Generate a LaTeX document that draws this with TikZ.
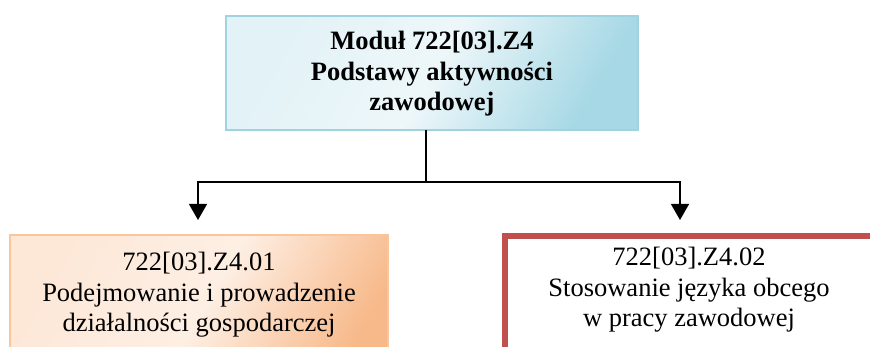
\documentclass[tikz,border=0pt]{standalone}
\usepackage{fontspec}
\setmainfont{Liberation Serif}
\usetikzlibrary{arrows.meta}
\definecolor{bluebd}{HTML}{9FD3E0}
\definecolor{bluedk}{HTML}{A6D8E5}
\definecolor{bluelt}{HTML}{E2F2F6}
\definecolor{orbd}{HTML}{F9C69B}
\definecolor{ordk}{HTML}{F7B98A}
\definecolor{orlt}{HTML}{FDE8D8}
\definecolor{redbd}{HTML}{C0504D}
\tikzset{
  every node/.style={inner sep=0pt, outer sep=0pt},
  boxtext/.style={align=center, font=\fontsize{26.5}{30.5}\selectfont},
  conn/.style={draw=black, line width=1.4pt},
  arr/.style={conn, -{Triangle[width=18pt,length=16pt]}},
}
\begin{document}
\begin{tikzpicture}[x=1pt,y=-1pt]
\useasboundingbox (0,0) rectangle (870,347);
\clip (0,0) rectangle (870,347);
% top box
\node[draw=bluebd, line width=2pt, minimum width=412pt, minimum height=114pt,
      shading=axis, left color=bluelt, right color=bluedk, middle color=bluelt!60!white,
      shading angle=60] (top) at (432,73) {};
\node[boxtext, font=\fontsize{26.5}{30.5}\selectfont\bfseries] (toptxt) at (432,74)
  {Moduł 722[03].Z4\\Podstawy aktywności\\zawodowej};
% left box
\node[draw=orbd, line width=2pt, minimum width=378pt, minimum height=160pt, anchor=north,
      shading=axis, left color=orlt, right color=ordk, middle color=orlt!70!white,
      shading angle=60] (lbox) at (199,235) {};
\node[boxtext] (ltxt) at (199,295)
  {722[03].Z4.01\\Podejmowanie i prowadzenie\\działalności gospodarczej};
% right box
\node[draw=redbd, fill=white, line width=6pt, minimum width=500pt, minimum height=160pt,
      anchor=north west] (rbox) at (505,236) {};
\node[boxtext] (rtxt) at (689,290)
  {722[03].Z4.02\\Stosowanie języka obcego\\w pracy zawodowej};
% connectors
\coordinate (j) at (426,182);
\coordinate (la) at (198,220);
\coordinate (ra) at (680,220);
\draw[conn] (top.south -| j) -- (j);
\draw[arr] (j) -| (la);
\draw[arr] (j) -| (ra);
\end{tikzpicture}
\end{document}
